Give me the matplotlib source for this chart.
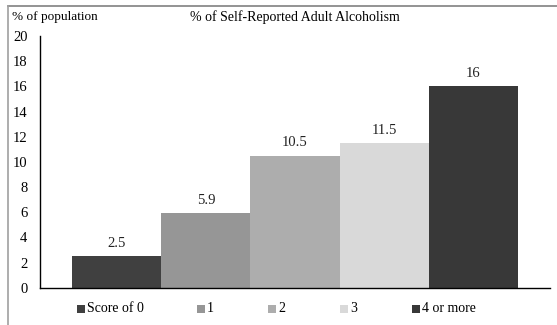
import matplotlib
matplotlib.use("Agg")
import matplotlib.pyplot as plt
from matplotlib.lines import Line2D
from matplotlib.patches import Rectangle

series = ["Score of 0", "1", "2", "3", "4 or more"]
values = [2.5, 5.9, 10.5, 11.5, 16]
colors = ["#404040", "#969696", "#adadad", "#d9d9d9", "#383838"]
yticks = [0, 2, 4, 6, 8, 10, 12, 14, 16, 18, 20]
title = "% of Self-Reported Adult Alcoholism"
ylabel = "% of population"

plt.rcParams['font.family'] = ['Liberation Serif', 'DejaVu Serif']

W, H = 557, 325
fig = plt.figure(figsize=(W/100, H/100), dpi=100)
ax = fig.add_axes([40/W, 1-287.7/H, 510/W, (287.7-36)/H])

n = len(values)
bw = 0.873 / n
start = -0.873/2 + bw/2
for i, (s, v, c) in enumerate(zip(series, values, colors)):
    x = start + i*bw
    ax.bar(x, v, width=bw, color=c, label=s)
    ax.text(x, v + 0.5, f"{v:g}", ha='center', va='bottom', fontsize=10.5, color='#222222')

ax.set_xlim(-0.5, 0.5)
ax.set_ylim(0, 20)
ax.set_yticks(yticks)
ax.set_yticklabels([str(t) for t in yticks], fontsize=10.5)
ax.set_xticks([])
ax.tick_params(axis='y', length=0, pad=9)
for sp in ['top', 'right']:
    ax.spines[sp].set_visible(False)
ax.spines['left'].set_linewidth(1.0)
ax.spines['bottom'].set_linewidth(1.0)

fig.text(12/W, 1-17/H, ylabel, fontsize=9.5, va='center', ha='left')
fig.text(295/W, 1-17/H, title, fontsize=10, va='center', ha='center')

# legend entries placed in a row beneath the axis
leg_x = [77, 197, 268, 340, 412]
for lx, s, c in zip(leg_x, series, colors):
    fig.add_artist(Rectangle((lx/W, 1-313/H), 8/W, 8/H, facecolor=c, edgecolor='none',
                             transform=fig.transFigure))
    fig.text((lx+10)/W, 1-309/H, s, fontsize=10, va='center', ha='left')

# outer frame (top and left visible)
fig.add_artist(Line2D([8/W, 1], [1-6/H, 1-6/H], color='#808080', lw=1.2, transform=fig.transFigure))
fig.add_artist(Line2D([8/W, 8/W], [0, 1-6/H], color='#a0a0a0', lw=1.2, transform=fig.transFigure))

fig.savefig("out.png", dpi=100)
